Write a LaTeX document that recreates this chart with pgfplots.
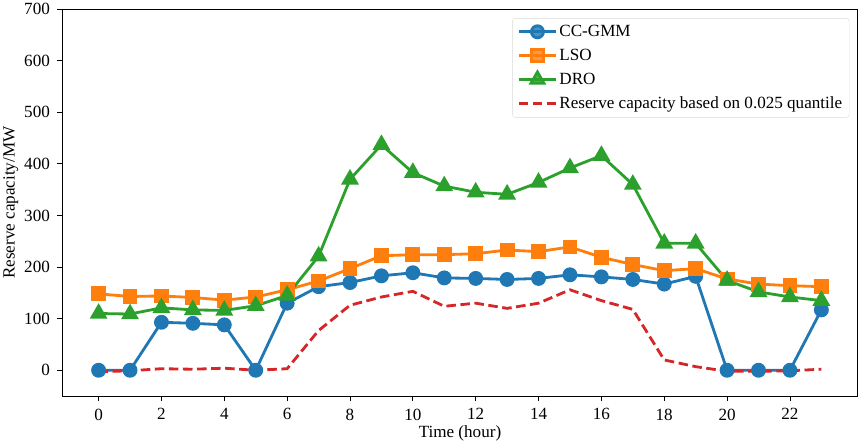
\documentclass[border=0pt]{standalone}
\usepackage{pgfplots}
\pgfplotsset{compat=1.18}
\usepackage{fontspec}
\setmainfont{Liberation Serif}
\definecolor{tblue}{HTML}{1F77B4}
\definecolor{torange}{HTML}{FF7F0E}
\definecolor{tgreen}{HTML}{2CA02C}
\definecolor{tred}{HTML}{D62728}
\begin{document}
\begin{tikzpicture}
\begin{axis}[
  scale only axis, width=791pt, height=385pt,
  xmin=-1.15, xmax=24.15, ymin=-50, ymax=700,
  xtick={0,2,...,22}, ytick={0,100,...,700},
  tick align=outside, tick pos=left,
  major tick length=5pt,
  every tick/.style={black, line width=0.8pt},
  axis line style={line width=1pt},
  /pgf/number format/assume math mode=true,
  ticklabel style={font=\fontsize{17}{20}\selectfont},
  xticklabel style={yshift=-4pt},
  yticklabel style={xshift=-4pt},
  label style={font=\fontsize{17}{20}\selectfont},
  xlabel={Time (hour)}, ylabel={Reserve capacity/MW},
  xlabel style={yshift=1pt},
  ylabel style={yshift=-1pt},
  legend cell align=left,
  legend style={at={(1,1)}, anchor=north east, xshift=-8pt, yshift=-9pt,
    draw=black!15, rounded corners=3pt, fill=white, fill opacity=0.8, text opacity=1,
    font=\fontsize{17}{20}\selectfont, row sep=7pt, inner sep=5pt},
  legend image code/.code={\draw[mark repeat=2,mark phase=2] plot coordinates {(0cm,0cm)(0.65cm,0cm)(1.3cm,0cm)};},
  every axis plot/.append style={line width=2.8pt},
]
\addplot[tblue, mark=*, mark size=6pt, mark options={solid}] coordinates {
(0,0)(1,0)(2,93)(3,91)(4,88)(5,0)(6,130)(7,162)(8,170)(9,183)(10,189)(11,179)(12,178)(13,176)(14,178)(15,185)(16,181)(17,176)(18,167)(19,182)(20,0)(21,0)(22,0)(23,117)};
\addlegendentry{CC-GMM}
\addplot[torange, mark=square*, mark size=6pt, mark options={solid}] coordinates {
(0,148)(1,143)(2,144)(3,141)(4,136)(5,142)(6,156)(7,173)(8,197)(9,222)(10,224)(11,224)(12,226)(13,233)(14,230)(15,239)(16,219)(17,205)(18,193)(19,197)(20,177)(21,167)(22,164)(23,162)};
\addlegendentry{LSO}
\addplot[tgreen, mark=triangle*, mark size=7.5pt, mark options={solid}] coordinates {
(0,110)(1,109)(2,121)(3,117)(4,116)(5,125)(6,145)(7,221)(8,370)(9,437)(10,383)(11,357)(12,345)(13,341)(14,364)(15,392)(16,416)(17,360)(18,246)(19,246)(20,174)(21,152)(22,142)(23,135)};
\addlegendentry{DRO}
\addplot[tred, dash pattern=on 9.5pt off 4.5pt] coordinates {
(0,-3)(1,-1)(2,3)(3,2)(4,4)(5,0)(6,3)(7,77)(8,126)(9,142)(10,153)(11,124)(12,130)(13,120)(14,130)(15,156)(16,135)(17,118)(18,20)(19,7)(20,-2)(21,-2)(22,-1)(23,2)};
\addlegendentry{Reserve capacity based on 0.025 quantile}
\end{axis}
\end{tikzpicture}
\end{document}
